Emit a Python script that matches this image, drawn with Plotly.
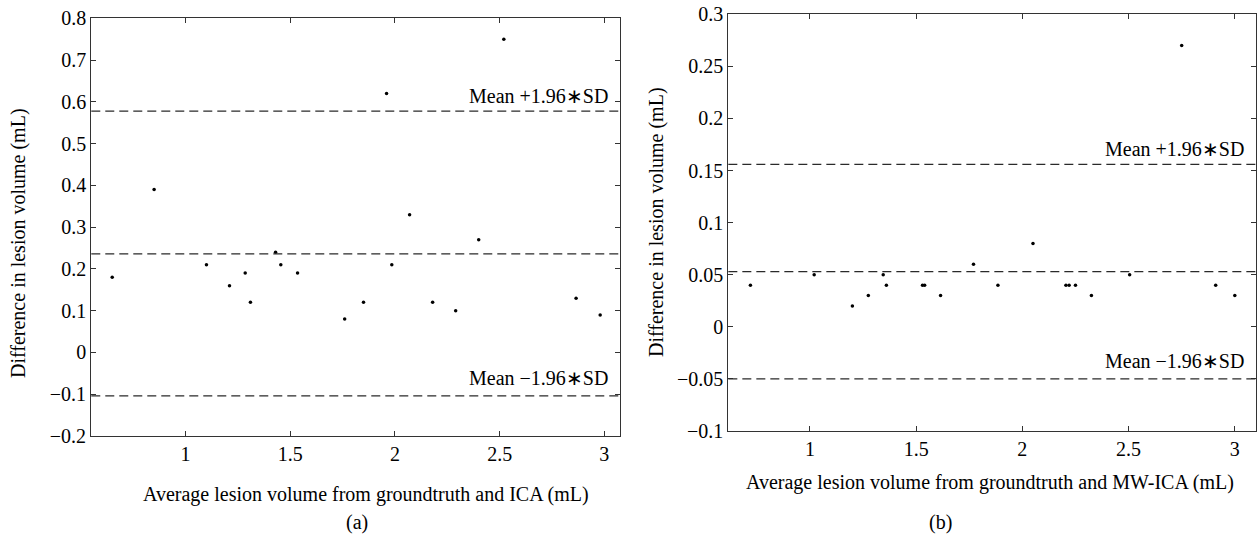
import plotly.graph_objects as go

# ---- data ----
ica_avg = [0.65, 0.85, 1.10, 1.21, 1.285, 1.31, 1.43, 1.455, 1.535, 1.76,
           1.85, 1.96, 1.985, 2.07, 2.18, 2.29, 2.40, 2.52, 2.865, 2.98]
ica_diff = [0.18, 0.39, 0.21, 0.16, 0.19, 0.12, 0.24, 0.21, 0.19, 0.08,
            0.12, 0.62, 0.21, 0.33, 0.12, 0.10, 0.27, 0.75, 0.13, 0.09]
ica_lines = [0.578, 0.236, -0.104]   # mean+1.96SD, mean, mean-1.96SD

mw_avg = [0.72, 1.02, 1.20, 1.275, 1.345, 1.36, 1.53, 1.54, 1.615, 1.77,
          1.885, 2.05, 2.205, 2.22, 2.25, 2.325, 2.505, 2.75, 2.91, 3.0]
mw_diff = [0.04, 0.05, 0.02, 0.03, 0.05, 0.04, 0.04, 0.04, 0.03, 0.06,
           0.04, 0.08, 0.04, 0.04, 0.04, 0.03, 0.05, 0.27, 0.04, 0.03]
mw_lines = [0.156, 0.053, -0.050]

x_ticks = [1, 1.5, 2, 2.5, 3]
x_ticktext = ["1", "1.5", "2", "2.5", "3"]
a_yticks = [-0.2, -0.1, 0, 0.1, 0.2, 0.3, 0.4, 0.5, 0.6, 0.7, 0.8]
a_yticktext = ["\u22120.2", "\u22120.1", "0", "0.1", "0.2", "0.3", "0.4", "0.5", "0.6", "0.7", "0.8"]
b_yticks = [-0.1, -0.05, 0, 0.05, 0.1, 0.15, 0.2, 0.25, 0.3]
b_yticktext = ["\u22120.1", "\u22120.05", "0", "0.05", "0.1", "0.15", "0.2", "0.25", "0.3"]

upper_label = "Mean +1.96\u2217SD"
lower_label = "Mean \u22121.96\u2217SD"

FONT = "Liberation Serif, Times New Roman, serif"
FS = 20

fig = go.Figure()
fig.add_trace(go.Scatter(x=ica_avg, y=ica_diff, mode="markers", xaxis="x", yaxis="y",
                         marker=dict(color="black", size=3.5), showlegend=False))
fig.add_trace(go.Scatter(x=mw_avg, y=mw_diff, mode="markers", xaxis="x2", yaxis="y2",
                         marker=dict(color="black", size=3.5), showlegend=False))

axis_common = dict(showline=True, linecolor="#333", linewidth=1.3, mirror="ticks",
                   ticks="inside", ticklen=5, tickcolor="#333", tickwidth=1,
                   showgrid=False, zeroline=False, automargin=False,
                   tickfont=dict(family=FONT, size=FS, color="black"))

fig.update_layout(
    width=1259, height=539,
    margin=dict(l=0, r=0, t=0, b=0, pad=0),
    paper_bgcolor="white", plot_bgcolor="white",
    xaxis=dict(domain=[0.0725, 0.4925], range=[0.55, 3.075], anchor="y",
               tickvals=x_ticks, ticktext=x_ticktext, **axis_common),
    yaxis=dict(domain=[0.1911, 0.966], range=[-0.2, 0.8], anchor="x",
               tickvals=a_yticks, ticktext=a_yticktext, **axis_common),
    xaxis2=dict(domain=[0.5785, 0.998], range=[0.616, 3.102], anchor="y2",
                tickvals=x_ticks, ticktext=x_ticktext, **axis_common),
    yaxis2=dict(domain=[0.2004, 0.9735], range=[-0.1, 0.3], anchor="x2",
                tickvals=b_yticks, ticktext=b_yticktext, **axis_common),
)

for xr, yr, vals in (("x", "y", ica_lines), ("x2", "y2", mw_lines)):
    for v in vals:
        fig.add_shape(type="line", xref=xr + " domain", yref=yr, x0=0, x1=1, y0=v, y1=v,
                      line=dict(color="#2a2a2a", width=1.2, dash="9px,5px"))
    fig.add_annotation(xref=xr + " domain", yref=yr, x=1, y=vals[0], text=upper_label,
                       xanchor="right", yanchor="bottom", xshift=-10, yshift=2,
                       showarrow=False, font=dict(family=FONT, size=FS, color="black"))
    fig.add_annotation(xref=xr + " domain", yref=yr, x=1, y=vals[2], text=lower_label,
                       xanchor="right", yanchor="bottom", xshift=-10, yshift=5,
                       showarrow=False, font=dict(family=FONT, size=FS, color="black"))

def paper_txt(x, y, text, angle=0):
    fig.add_annotation(xref="paper", yref="paper", x=x / 1259, y=1 - y / 539, text=text,
                       xanchor="center", yanchor="middle", showarrow=False, textangle=angle,
                       font=dict(family=FONT, size=FS, color="black"))

paper_txt(18, 243, "Difference in lesion volume (mL)", -90)
paper_txt(656, 222, "Difference in lesion volume (mL)", -90)
paper_txt(366, 494, "Average lesion volume from groundtruth and ICA (mL)")
paper_txt(990, 482, "Average lesion volume from groundtruth and MW-ICA (mL)")
paper_txt(357, 522, "(a)")
paper_txt(940, 522, "(b)")

fig.write_html("out.html", config={"displayModeBar": False},
               post_script="document.body.style.margin='0px';document.body.style.overflow='hidden';")
